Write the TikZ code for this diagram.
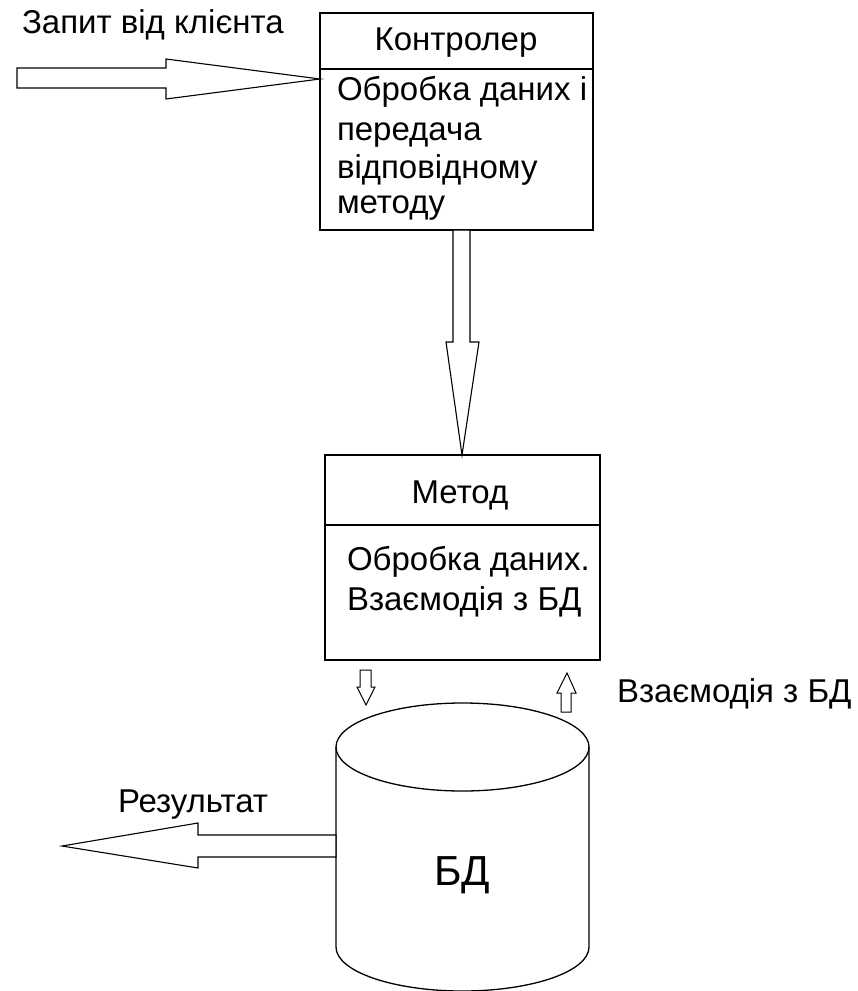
\documentclass[tikz,border=0pt]{standalone}
\usepackage{fontspec}
\setmainfont{Liberation Sans}
\begin{document}
\begin{tikzpicture}[x=1pt,y=-1pt,
  box/.style={draw,line width=1.3pt,inner sep=0pt,outer sep=0pt,anchor=north west},
  txt/.style={inner sep=0pt,outer sep=0pt,font=\fontsize{33}{40}\selectfont},
  blockarrow/.style={draw,line width=1.1pt,fill=white,line join=miter}]
\useasboundingbox (0,0) rectangle (858,991);
% Controller
\node[box,minimum width=273pt,minimum height=56pt] (ctrltitle) at (320,13) {};
\node[box,minimum width=273pt,minimum height=161pt] (ctrlbody) at (320,69) {};
\node[txt,anchor=base] (ctrlname) at (456,50) {Контролер};
\node[txt,anchor=base west] (cl1) at (337,100) {Обробка даних і};
\node[txt,anchor=base west] (cl2) at (337,140) {передача};
\node[txt,anchor=base west] (cl3) at (337,178) {відповідному};
\node[txt,anchor=base west] (cl4) at (337,213) {методу};
% Method
\node[box,minimum width=275pt,minimum height=70pt] (mtitle) at (325,455) {};
\node[box,minimum width=275pt,minimum height=135pt] (mbody) at (325,525) {};
\node[txt,anchor=base] (mname) at (460,503) {Метод};
\node[txt,anchor=base west] (ml1) at (347,570) {Обробка даних.};
\node[txt,anchor=base west] (ml2) at (347,610) {Взаємодія з БД};
% Database cylinder
\draw[line width=1.3pt] (336,747) -- (336,947) arc[start angle=180,end angle=0,x radius=126.5,y radius=44] -- (589,747);
\draw[line width=1.3pt] (462.5,747) ellipse[x radius=126.5,y radius=44];
\node[inner sep=0pt,font=\fontsize{42}{50}\selectfont,anchor=base] (db) at (462,885) {БД};
% labels
\node[txt,anchor=base west] (req) at (22,33) {Запит від клієнта};
\node[txt,anchor=base west] (dbint) at (617,702) {Взаємодія з БД};
\node[txt,anchor=base west] (res) at (118,812) {Результат};
% input arrow
\coordinate (intip) at (ctrlbody.west |- 0,79);
\draw[blockarrow] (17,68) -- (166,68) -- (166,59) -- (intip) -- (166,99) -- (166,88) -- (17,88) -- cycle;
% controller to method
\coordinate (dtip) at (mtitle.north -| 462,0);
\draw[blockarrow] (453,230) -- (470,230) -- (470,342) -- (479,342) -- (dtip) -- (446,342) -- (453,342) -- cycle;
% small down arrow
\draw[blockarrow,line width=1pt] (360,670) -- (371,670) -- (371,687) -- (375,687) -- (366,705) -- (357,687) -- (360,687) -- cycle;
% small up arrow
\draw[blockarrow,line width=1pt] (561,712) -- (571,712) -- (571,693) -- (576,693) -- (567,673) -- (557,693) -- (561,693) -- cycle;
% output arrow
\coordinate (outtip) at (62,846);
\draw[blockarrow] (336,835) -- (198,835) -- (198,823) -- (outtip) -- (198,868) -- (198,857) -- (336,857) -- cycle;
\end{tikzpicture}
\end{document}
